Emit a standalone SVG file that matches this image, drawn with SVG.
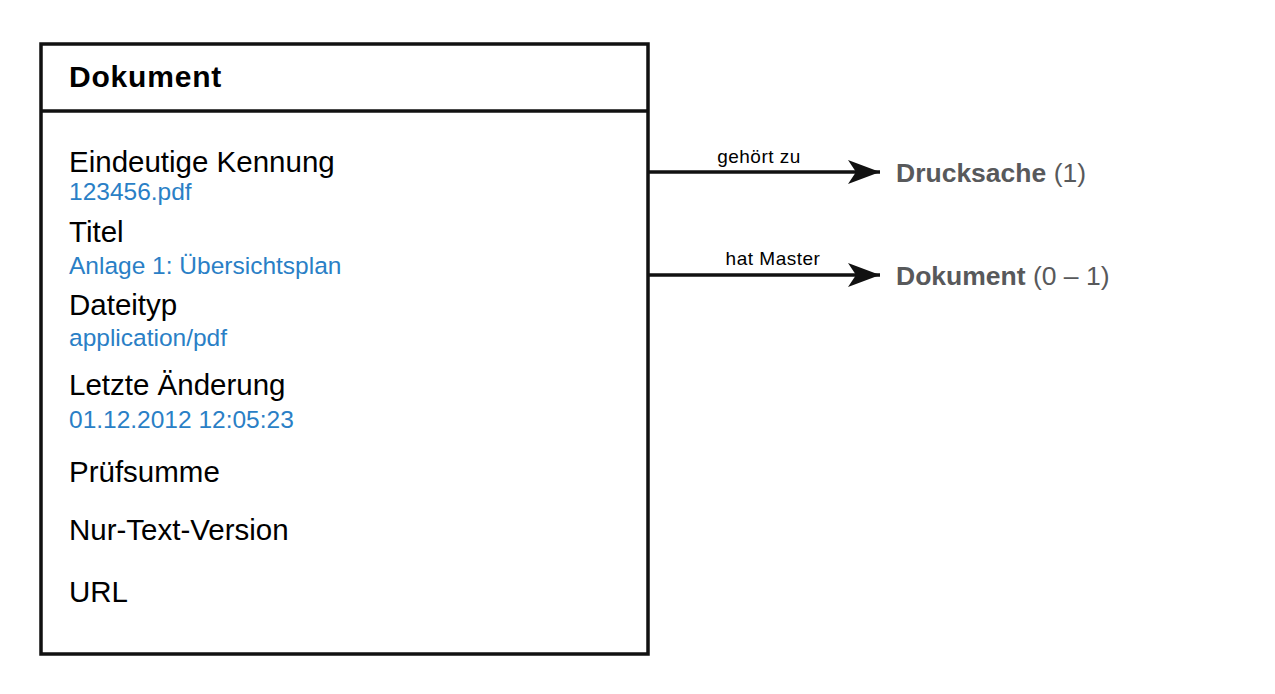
<svg xmlns="http://www.w3.org/2000/svg" width="1275" height="694" viewBox="0 0 1275 694">
<style>
text{font-family:"Liberation Sans",Arial,sans-serif}
.h{font-size:30px;font-weight:bold;fill:#000;letter-spacing:0.8px}
.l{font-size:29.5px;fill:#000}
.v{font-size:24.5px;fill:#2a7fc6}
.c{font-size:19px;fill:#000;text-anchor:middle;letter-spacing:0.5px}
.t{font-size:26.5px;fill:#58595b}
.b{font-weight:bold}
.edge{stroke:#111;stroke-width:3.5;fill:none}
</style>
<defs>
<marker id="arr" markerUnits="userSpaceOnUse" markerWidth="34" markerHeight="28" refX="32" refY="14" orient="auto">
<path d="M0,2 L32,14 L0,26 L8,14 Z" fill="#111"/>
</marker>
</defs>
<rect width="1275" height="694" fill="#fff"/>
<g id="node-dokument">
<rect x="41" y="44" width="607" height="610" fill="#fff" stroke="#111" stroke-width="3.5"/>
<line x1="41" y1="111" x2="648" y2="111" stroke="#111" stroke-width="3.5"/>
<text class="h" x="69" y="87">Dokument</text>
<text class="l" x="69" y="172">Eindeutige Kennung</text>
<text class="v" x="69" y="200">123456.pdf</text>
<text class="l" x="69" y="242">Titel</text>
<text class="v" x="69" y="274">Anlage 1: Übersichtsplan</text>
<text class="l" x="69" y="315">Dateityp</text>
<text class="v" x="69" y="346">application/pdf</text>
<text class="l" x="69" y="395">Letzte Änderung</text>
<text class="v" x="69" y="428">01.12.2012 12:05:23</text>
<text class="l" x="69" y="482">Prüfsumme</text>
<text class="l" x="69" y="540">Nur-Text-Version</text>
<text class="l" x="69" y="602">URL</text>
</g>
<g id="node-drucksache">
<text class="t" x="896" y="182"><tspan class="b">Drucksache</tspan> (1)</text>
</g>
<g id="node-master">
<text class="t" x="896" y="285"><tspan class="b">Dokument</tspan> (0 – 1)</text>
</g>
<g id="connectors">
<line class="edge" x1="649" y1="172" x2="880" y2="172" marker-end="url(#arr)"/>
<text class="c" x="759" y="163">gehört zu</text>
<line class="edge" x1="649" y1="275" x2="880" y2="275" marker-end="url(#arr)"/>
<text class="c" x="773" y="265">hat Master</text>
</g>
</svg>
